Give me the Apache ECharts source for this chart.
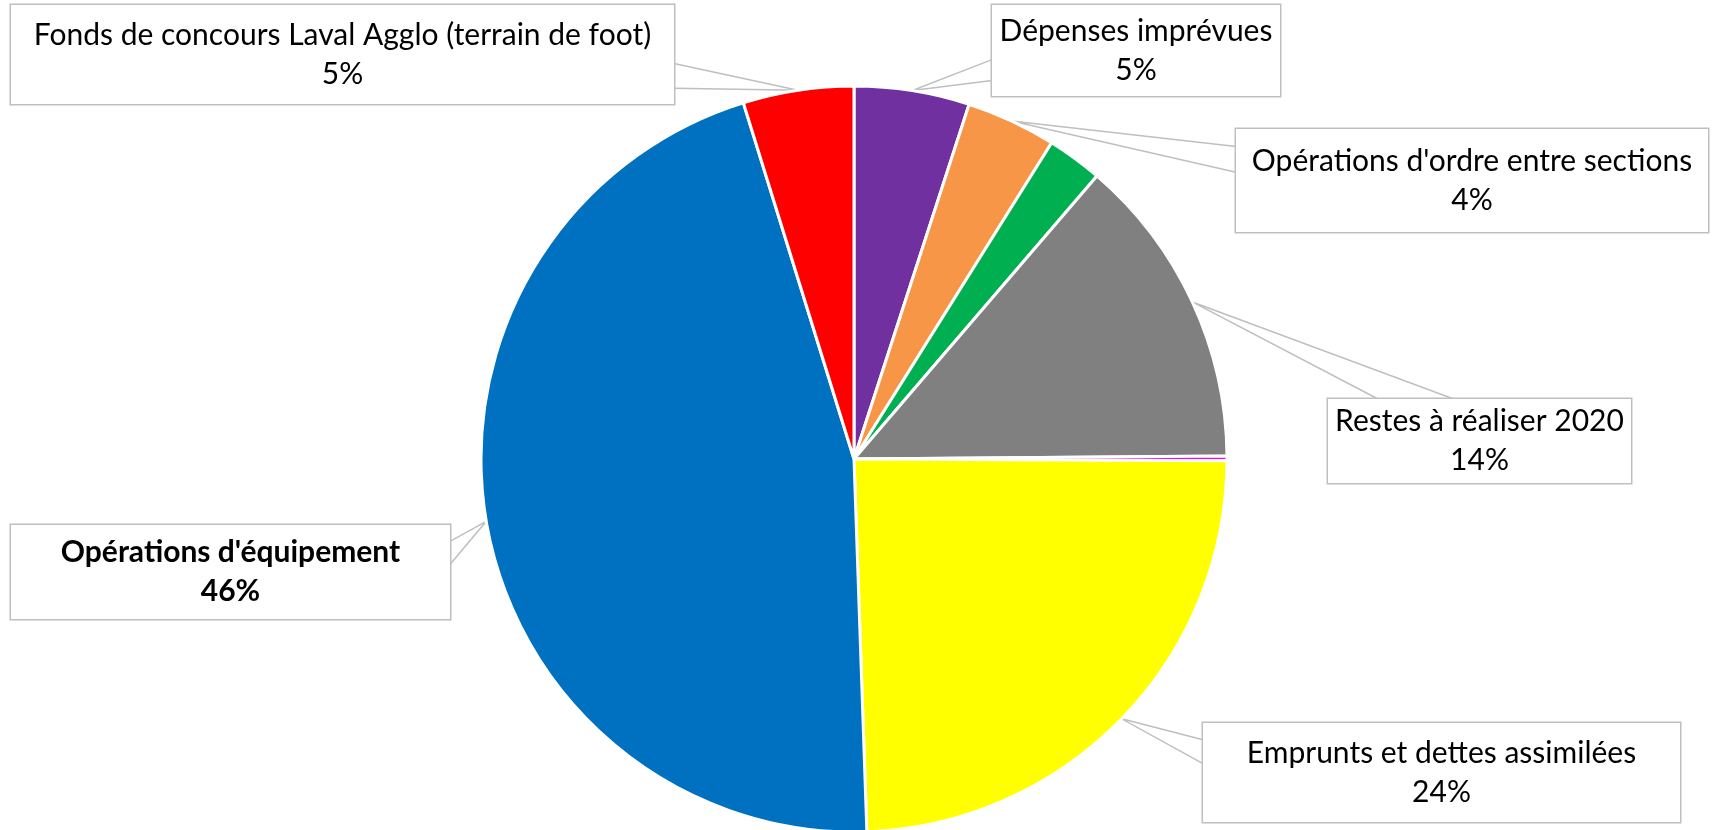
<!DOCTYPE html>
<html>
<head>
<meta charset="utf-8">
<script src="https://cdn.jsdelivr.net/npm/echarts@6/dist/echarts.min.js"></script>
<style>
html,body{margin:0;padding:0;background:#ffffff;}
#c{width:1713px;height:830px;}
</style>
</head>
<body>
<div id="c"></div>
<script>
// ---- data ----
const categories = [
  'Dépenses imprévues',
  "Opérations d'ordre entre sections",
  'Autres dépenses',
  'Restes à réaliser 2020',
  'Autres dépenses (2)',
  'Emprunts et dettes assimilées',
  "Opérations d'équipement",
  'Fonds de concours Laval Agglo (terrain de foot)'
];
const values = [5.0, 3.9, 2.4, 13.6, 0.2, 24.4, 45.8, 4.8];
const colors = ['#7030A0', '#F79646', '#00B050', '#808080', '#FF00FF', '#FFFF00', '#0070C0', '#FF0000'];
const showLabel = [true, true, false, true, false, true, true, true];
const boldLabel = [false, false, false, false, false, false, true, false];

// ---- label box layout (callout boxes) ----
const LH = 39;
const boxes = {
  0: {x: 992,  y: 5,   w: 288, h: 91,  edge: 'left',  f: [0.60, 0.83]},
  1: {x: 1236, y: 129, w: 472, h: 103, edge: 'left',  f: [0.17, 0.42]},
  3: {x: 1328, y: 399, w: 303, h: 84,  edge: 'top',   f: [0.165, 0.415]},
  5: {x: 1203, y: 723, w: 477, h: 99,  edge: 'left',  f: [0.17, 0.41]},
  6: {x: 11,   y: 525, w: 439, h: 94,  edge: 'right', f: [0.175, 0.42]},
  7: {x: 11,   y: 5,   w: 663, h: 99,  edge: 'right', f: [0.59, 0.84]}
};

const chart = echarts.init(document.getElementById('c'), null, {renderer: 'canvas'});

const data = categories.map(function (name, i) {
  const item = {name: name, value: values[i], itemStyle: {color: colors[i]}};
  const b = boxes[i];
  if (!showLabel[i] || !b) {
    item.label = {show: false};
    item.labelLine = {show: false};
  } else {
    item.label = {
      width: b.w,
      padding: [(b.h - 2 * LH) / 2, 0],
      fontWeight: boldLabel[i] ? 'bold' : 'normal'
    };
  }
  return item;
});

const option = {
  animation: false,
  backgroundColor: '#ffffff',
  series: [{
    type: 'pie',
    center: [854, 459],
    radius: 373,
    startAngle: 90,
    clockwise: true,
    avoidLabelOverlap: false,
    silent: true,
    itemStyle: {borderColor: '#ffffff', borderWidth: 3},
    label: {
      show: true,
      position: 'outside',
      formatter: function (p) { return p.name + '\n' + Math.round(p.percent) + '%'; },
      fontFamily: 'Lato',
      fontSize: 30,
      lineHeight: LH,
      color: '#000000',
      backgroundColor: '#ffffff',
      borderColor: '#BFBFBF',
      borderWidth: 1.5,
      align: 'center'
    },
    labelLine: {show: true, length: 10, length2: 10, lineStyle: {color: '#BFBFBF', width: 1.5}},
    labelLayout: function (params) {
      const b = boxes[params.dataIndex];
      if (!b) return {};
      const L = b.x, T = b.y, R = b.x + b.w, B = b.y + b.h;
      let p1, p2;
      if (b.edge === 'left') { p1 = [L, T + b.f[0] * b.h]; p2 = [L, T + b.f[1] * b.h]; }
      else if (b.edge === 'right') { p1 = [R, T + b.f[0] * b.h]; p2 = [R, T + b.f[1] * b.h]; }
      else if (b.edge === 'top') { p1 = [L + b.f[0] * b.w, T]; p2 = [L + b.f[1] * b.w, T]; }
      else { p1 = [L + b.f[0] * b.w, B]; p2 = [L + b.f[1] * b.w, B]; }
      const res = {x: L + b.w / 2, y: T, align: 'center', verticalAlign: 'top'};
      const pts = params.labelLinePoints;
      if (pts && pts.length) {
        res.labelLinePoints = [p1, pts[0], p2];
      }
      return res;
    },
    data: data
  }]
};
chart.setOption(option);
</script>
</body>
</html>
